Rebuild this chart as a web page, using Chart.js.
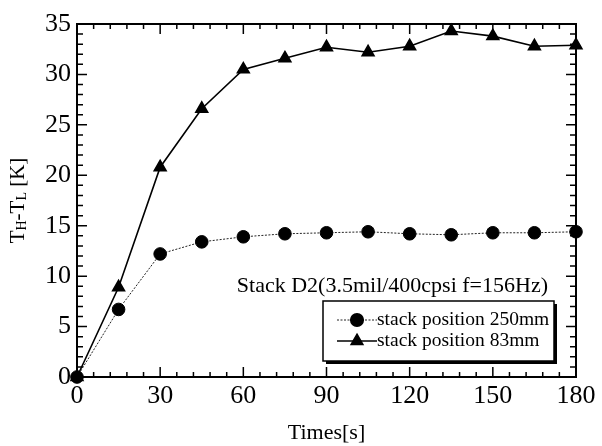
<!DOCTYPE html>
<html>
<head>
<meta charset="utf-8">
<script src="https://cdn.jsdelivr.net/npm/chart.js@4"></script>
<style>
  html, body { margin: 0; padding: 0; background: #fff; }
  #wrap { width: 602px; height: 446px; }
</style>
</head>
<body>
<div id="wrap"><canvas id="tempChart" width="602" height="446"></canvas></div>
<script>
// time axis (s) and measured temperature difference (K)
const times = [0, 15, 30, 45, 60, 75, 90, 105, 120, 135, 150, 165, 180];
const pos250 = [0, 6.7, 12.2, 13.4, 13.9, 14.2, 14.3, 14.4, 14.2, 14.1, 14.3, 14.3, 14.4];
const pos83 = [0, 8.9, 20.8, 26.6, 30.5, 31.6, 32.7, 32.2, 32.8, 34.3, 33.8, 32.8, 32.9];
const seriesNames = ["stack position 250mm", "stack position 83mm"];
const noteText = "Stack D2(3.5mil/400cpsi f=156Hz)";

const serif = "'Liberation Serif', 'DejaVu Serif', serif";

function toPoints(vals) {
  return times.map((t, i) => ({ x: t, y: vals[i] }));
}

// frame with inward ticks on all four sides
const frameTicks = {
  id: 'frameTicks',
  beforeDatasetsDraw(chart) {
    const { ctx, chartArea: a, scales } = chart;
    const xs = scales.x, ys = scales.y;
    ctx.save();
    ctx.strokeStyle = '#000';
    ctx.lineWidth = 2;
    ctx.strokeRect(a.left, a.top, a.right - a.left, a.bottom - a.top);
    ctx.lineWidth = 1.5;
    ctx.beginPath();
    for (let v = xs.min; v <= xs.max; v += 6) {
      const px = xs.getPixelForValue(v);
      const len = v % 30 === 0 ? 10 : 5;
      ctx.moveTo(px, a.bottom); ctx.lineTo(px, a.bottom - len);
      ctx.moveTo(px, a.top); ctx.lineTo(px, a.top + len);
    }
    for (let v = ys.min; v <= ys.max; v += 1) {
      const py = ys.getPixelForValue(v);
      const len = v % 5 === 0 ? 10 : 6;
      ctx.moveTo(a.left, py); ctx.lineTo(a.left + len, py);
      ctx.moveTo(a.right, py); ctx.lineTo(a.right - len, py);
    }
    ctx.stroke();
    ctx.restore();
  },
  afterDraw(chart) {
    const { ctx, chartArea: a } = chart;
    ctx.save();
    ctx.fillStyle = '#000';

    // y axis title with subscripts
    ctx.translate(17, (a.top + a.bottom) / 2);
    ctx.rotate(-Math.PI / 2);
    const parts = [
      ['T', 21, 0], ['H', 14, 4], ['-', 21, 0], ['T', 21, 0], ['L', 14, 4], [' [K]', 21, 0]
    ];
    let total = 0;
    parts.forEach(p => { ctx.font = p[1] + 'px ' + serif; total += ctx.measureText(p[0]).width; });
    let cx = -total / 2;
    ctx.textBaseline = 'middle';
    ctx.textAlign = 'left';
    parts.forEach(p => {
      ctx.font = p[1] + 'px ' + serif;
      ctx.fillText(p[0], cx, p[2] + 1);
      cx += ctx.measureText(p[0]).width;
    });
    ctx.restore();

    // annotation
    ctx.save();
    ctx.fillStyle = '#000';
    ctx.font = '22px ' + serif;
    ctx.textAlign = 'right';
    ctx.textBaseline = 'middle';
    ctx.fillText(noteText, 548, 286);

    // legend box with shadow
    const bx = 323, by = 301, bw = 231, bh = 60;
    ctx.fillStyle = '#000';
    ctx.fillRect(bx + 3, by + 3, bw, bh);
    ctx.fillStyle = '#fff';
    ctx.fillRect(bx, by, bw, bh);
    ctx.strokeStyle = '#000';
    ctx.lineWidth = 1.5;
    ctx.strokeRect(bx, by, bw, bh);

    chart.data.datasets.forEach((ds, i) => {
      const ry = by + 19 + i * 21;
      ctx.save();
      ctx.strokeStyle = ds.borderColor;
      ctx.lineWidth = ds.borderWidth;
      ctx.setLineDash(ds.borderDash || []);
      ctx.beginPath();
      ctx.moveTo(337, ry); ctx.lineTo(377, ry);
      ctx.stroke();
      ctx.restore();
      ctx.fillStyle = '#000';
      ctx.strokeStyle = '#000';
      Chart.helpers.drawPoint(ctx, {
        pointStyle: ds.pointStyle, radius: ds.pointRadius, rotation: 0, borderWidth: 1
      }, 357, ry);
      ctx.fillStyle = '#000';
      ctx.font = '19.5px ' + serif;
      ctx.textAlign = 'left';
      ctx.fillText(seriesNames[i], 377, ry);
    });
    ctx.restore();
  }
};

const ctx = document.getElementById('tempChart').getContext('2d');

new Chart(ctx, {
  type: 'line',
  data: {
    datasets: [
      {
        label: seriesNames[0],
        data: toPoints(pos250),
        borderColor: '#222',
        borderWidth: 1,
        borderDash: [2, 1.5],
        pointStyle: 'circle',
        pointRadius: 6.3,
        pointBackgroundColor: '#000',
        pointBorderColor: '#000',
        tension: 0,
        clip: false
      },
      {
        label: seriesNames[1],
        data: toPoints(pos83),
        borderColor: '#000',
        borderWidth: 1.6,
        pointStyle: 'triangle',
        pointRadius: 6.8,
        pointBackgroundColor: '#000',
        pointBorderColor: '#000',
        tension: 0,
        clip: false
      }
    ]
  },
  options: {
    responsive: false,
    animation: false,
    devicePixelRatio: 1,
    layout: { padding: { left: 0, right: 26, top: 24, bottom: 0 } },
    plugins: {
      legend: { display: false },
      tooltip: { enabled: false }
    },
    scales: {
      x: {
        type: 'linear',
        min: 0,
        max: 180,
        grid: { display: false, drawTicks: false },
        border: { display: false },
        ticks: {
          stepSize: 30,
          padding: 4,
          color: '#000',
          font: { family: serif, size: 26 }
        },
        title: {
          display: true,
          text: 'Times[s]',
          color: '#000',
          font: { family: serif, size: 22 },
          padding: { top: 0, bottom: 0 }
        },
        afterFit(scale) { scale.height = 69; }
      },
      y: {
        min: 0,
        max: 35,
        grid: { display: false, drawTicks: false },
        border: { display: false },
        ticks: {
          stepSize: 5,
          padding: 6,
          color: '#000',
          font: { family: serif, size: 26 }
        },
        afterFit(scale) { scale.width = 77; }
      }
    }
  },
  plugins: [frameTicks]
});
</script>
</body>
</html>
